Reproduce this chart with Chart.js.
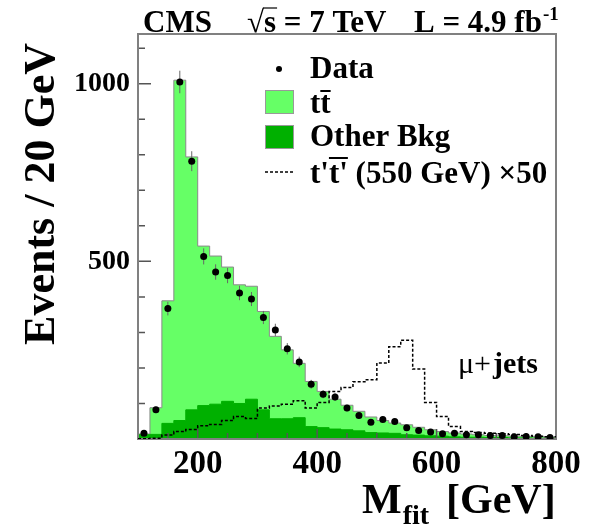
<!DOCTYPE html>
<html>
<head>
<meta charset="utf-8">
<script src="https://cdn.jsdelivr.net/npm/chart.js@4"></script>
<style>
  html, body { margin: 0; padding: 0; background: #fff; }
</style>
</head>
<body>
<canvas id="mfitChart" width="591" height="528"></canvas>
<script>
// bin edges in GeV (20 GeV bins)
const binEdges = [100, 120, 140, 160, 180, 200, 220, 240, 260, 280, 300, 320, 340, 360, 380, 400, 420, 440,
                  460, 480, 500, 520, 540, 560, 580, 600, 620, 640, 660, 680, 700, 720, 740, 760, 780, 800];

const otherBkg = [12, 13, 44, 52, 82, 94, 98, 106, 100, 112, 82, 57, 57, 60, 35, 32, 28, 26,
                  23, 18, 17, 16, 12, 11, 9, 8, 6, 5, 5, 4, 4, 3, 3, 2, 2];
const ttbar = [2, 75, 345, 958, 712, 449, 417, 378, 334, 318, 277, 232, 194, 153, 127, 102, 84, 69,
               55, 44, 35, 29, 28, 22, 17, 13, 11, 9, 7, 6, 5, 5, 4, 4, 3];
const tprime550x50 = [1, 2, 11, 21, 27, 37, 41, 52, 63, 58, 87, 93, 98, 108, 87, 103, 134, 145,
                      161, 167, 214, 260, 278, 197, 103, 63, 35, 21, 18, 16, 15, 13, 10, 8, 6];
const dataEvents = [16, 82, 367, 1005, 782, 514, 470, 460, 411, 394, 342, 307, 254, 217, 154, 126, 118, 87,
                    66, 47, 55, 49, 32, 24, 20, 15, 16, 12, 12, 10, 10, 6, 7, 6, 4];

const xTickValues = [200, 400, 600, 800];
const yTickValues = [500, 1000];

const lightGreen = '#66ff66';
const darkGreen = '#00b000';
const serifName = '"Liberation Serif", "Times New Roman", serif';

// histogram as step line: one point per lower edge + closing point at last edge
function steps(values) {
    return binEdges.map((x, i) => ({ x: x, y: values[Math.min(i, values.length - 1)] }));
}

const dataPoints = dataEvents.map((v, i) => ({ x: (binEdges[i] + binEdges[i + 1]) / 2, y: v }));

function serif(size, bold) {
    return (bold ? 'bold ' : '') + size + 'px ' + serifName;
}

const decorations = {
    id: 'decorations',
    afterDatasetDraw(chart, args) {
        const ctx = chart.ctx;
        const a = chart.chartArea;
        const x = chart.scales.x, y = chart.scales.y;
        if (args.index === 2) {
            // frame and inward ticks
            ctx.save();
            ctx.strokeStyle = '#555';
            ctx.lineWidth = 1.5;
            ctx.beginPath();
            for (let v = 100; v < y.max; v += 100) {
                const len = yTickValues.includes(v) ? 13 : 7;
                const py = y.getPixelForValue(v);
                ctx.moveTo(a.left, py);
                ctx.lineTo(a.left + len, py);
            }
            for (let v = 150; v <= x.max; v += 50) {
                const len = xTickValues.includes(v) ? 10 : 6;
                const px = x.getPixelForValue(v);
                ctx.moveTo(px, a.bottom);
                ctx.lineTo(px, a.bottom - len);
            }
            ctx.stroke();
            ctx.strokeStyle = '#808080';
            ctx.lineWidth = 2;
            ctx.strokeRect(a.left, a.top, a.right - a.left, a.bottom - a.top);
            ctx.restore();
        }
        if (args.index === 1) {
            // poisson error bars under the data points
            ctx.save();
            ctx.strokeStyle = '#666';
            ctx.lineWidth = 1;
            ctx.beginPath();
            dataPoints.forEach(p => {
                const px = x.getPixelForValue(p.x);
                const e = Math.sqrt(p.y);
                ctx.moveTo(px, y.getPixelForValue(p.y + e));
                ctx.lineTo(px, y.getPixelForValue(Math.max(p.y - e, 0)));
            });
            ctx.stroke();
            ctx.restore();
        }
    },
    afterDraw(chart) {
        const ctx = chart.ctx;
        ctx.save();
        ctx.fillStyle = '#000';
        ctx.strokeStyle = '#000';
        ctx.textAlign = 'left';
        ctx.textBaseline = 'alphabetic';

        // header
        ctx.font = serif(31, true);
        ctx.fillText('CMS', 143, 32);
        ctx.font = serif(31, false);
        ctx.fillText('\u221A', 247, 32);
        const rw = ctx.measureText('\u221A').width;
        ctx.font = serif(31, true);
        ctx.fillText('s = 7 TeV', 247 + rw, 32);
        const sw = ctx.measureText('s').width;
        ctx.lineWidth = 1.2;
        ctx.beginPath();
        ctx.moveTo(247 + rw - 1, 8);
        ctx.lineTo(247 + rw + sw + 1, 8);
        ctx.stroke();
        ctx.fillText('L = 4.9 fb', 414, 32);
        const lw = ctx.measureText('L = 4.9 fb').width;
        ctx.font = serif(19, true);
        ctx.fillText('-1', 414 + lw + 1, 20);

        // legend
        ctx.beginPath();
        ctx.arc(279, 69, 3, 0, Math.PI * 2);
        ctx.fill();
        ctx.font = serif(31, true);
        ctx.fillText('Data', 310, 78);

        ctx.fillStyle = lightGreen;
        ctx.fillRect(265, 90, 28, 23);
        ctx.fillStyle = darkGreen;
        ctx.fillRect(265, 125, 28, 23);
        ctx.strokeStyle = '#999';
        ctx.lineWidth = 1;
        ctx.strokeRect(265.5, 90.5, 28, 23);
        ctx.strokeRect(265.5, 125.5, 28, 23);

        ctx.fillStyle = '#000';
        ctx.strokeStyle = '#000';
        ctx.fillText('tt', 310, 113);
        const tw = ctx.measureText('t').width;
        ctx.lineWidth = 2;
        ctx.beginPath();
        ctx.moveTo(310 + tw, 91);
        ctx.lineTo(310 + 2 * tw, 91);
        ctx.stroke();

        ctx.fillText('Other Bkg', 310, 146);

        ctx.lineWidth = 1.5;
        ctx.setLineDash([3, 2]);
        ctx.beginPath();
        ctx.moveTo(265, 172);
        ctx.lineTo(293, 172);
        ctx.stroke();
        ctx.setLineDash([]);

        ctx.fillText("t't'", 310, 183);
        const t1 = ctx.measureText("t'").width;
        ctx.lineWidth = 2;
        ctx.beginPath();
        ctx.moveTo(310 + t1, 158);
        ctx.lineTo(310 + 2 * t1, 158);
        ctx.stroke();
        ctx.fillText(' (550 GeV) \u00D750', 310 + ctx.measureText("t't'").width, 183);

        // channel label
        ctx.font = serif(30, false);
        ctx.fillText('\u03BC+', 458, 373);
        const mw = ctx.measureText('\u03BC+').width;
        ctx.font = serif(30, true);
        ctx.fillText('jets', 458 + mw + 2, 373);

        // x axis title with subscript
        ctx.font = serif(42, true);
        ctx.fillText('M', 362, 513);
        const Mw = ctx.measureText('M').width;
        ctx.font = serif(28, true);
        ctx.fillText('fit', 362 + Mw + 1, 524);
        ctx.font = serif(42, true);
        ctx.fillText('[GeV]', 446, 513);

        // y axis title
        ctx.translate(54, 43);
        ctx.rotate(-Math.PI / 2);
        ctx.textAlign = 'right';
        ctx.font = serif(44, true);
        ctx.fillText('Events / 20 GeV', 0, 0);
        ctx.restore();
    }
};

const ctx = document.getElementById('mfitChart').getContext('2d');

new Chart(ctx, {
    type: 'line',
    data: {
        datasets: [
            {
                label: 'Data',
                data: dataPoints,
                showLine: false,
                pointRadius: 3.5,
                pointBackgroundColor: '#000',
                pointBorderWidth: 0,
                stack: 'data'
            },
            {
                label: "t't' (550 GeV) x50",
                data: steps(tprime550x50),
                stepped: true,
                borderColor: '#000',
                borderWidth: 1.5,
                borderDash: [3, 2],
                pointRadius: 0,
                fill: false,
                stack: 'signal'
            },
            {
                label: 'Other Bkg',
                data: steps(otherBkg),
                stepped: true,
                borderColor: darkGreen,
                borderWidth: 1,
                backgroundColor: darkGreen,
                fill: 'origin',
                pointRadius: 0,
                stack: 'bkg'
            },
            {
                label: 'tt',
                data: steps(ttbar),
                stepped: true,
                borderColor: '#8a8a8a',
                borderWidth: 1,
                backgroundColor: lightGreen,
                fill: 'origin',
                pointRadius: 0,
                stack: 'bkg'
            }
        ]
    },
    options: {
        responsive: false,
        animation: false,
        events: [],
        layout: {
            padding: { top: 34, right: 35, left: 0, bottom: 0 }
        },
        plugins: {
            legend: { display: false },
            tooltip: { enabled: false }
        },
        scales: {
            x: {
                type: 'linear',
                min: 100,
                max: 800,
                afterBuildTicks: function(scale) {
                    scale.ticks = xTickValues.map(v => ({ value: v }));
                },
                afterFit: function(scale) {
                    scale.height = 89;
                },
                ticks: {
                    font: { family: serifName, size: 33, weight: 'bold' },
                    color: '#000',
                    padding: 6,
                    maxRotation: 0,
                    autoSkip: false,
                    callback: function(value) {
                        return String(value);
                    }
                },
                grid: { display: false, drawTicks: false },
                border: { display: false }
            },
            y: {
                type: 'linear',
                stacked: true,
                min: 0,
                max: 1140,
                afterBuildTicks: function(scale) {
                    scale.ticks = yTickValues.map(v => ({ value: v }));
                },
                afterFit: function(scale) {
                    scale.width = 138;
                },
                ticks: {
                    font: { family: serifName, size: 28, weight: 'bold' },
                    color: '#000',
                    padding: 8,
                    callback: function(value) {
                        return String(value);
                    }
                },
                grid: { display: false, drawTicks: false },
                border: { display: false }
            }
        }
    },
    plugins: [decorations]
});
</script>
</body>
</html>
